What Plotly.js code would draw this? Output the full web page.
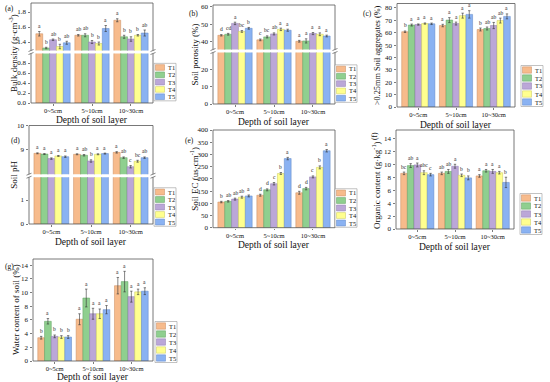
<!DOCTYPE html>
<html><head><meta charset="utf-8">
<script src="https://cdn.plot.ly/plotly-3.0.1.min.js"></script>
<style>body{margin:0;padding:0;background:#fff}#chart{width:550px;height:382px}</style>
</head><body><div id="chart"></div>
<script>
// ---------- DATA ----------
const categories = ['0~5cm', '5~10cm', '10~30cm'];
const treatments = ['T1', 'T2', 'T3', 'T4', 'T5'];

// values[treatment][depth]
const bulkDensity = [[1.51, 1.49, 1.69], [1.32, 1.49, 1.47], [1.43, 1.40, 1.44], [1.34, 1.38, 1.49], [1.39, 1.58, 1.52]];
const bulkDensityErr = [[0.03, 0.01, 0.02], [0.01, 0.02, 0.02], [0.01, 0.02, 0.03], [0.03, 0.02, 0.01], [0.02, 0.04, 0.04]];
const bulkDensityLetters = [['a', 'ab', 'a'], ['b', 'ab', 'b'], ['ab', 'b', 'b'], ['b', 'b', 'b'], ['ab', 'a', 'ab']];

const porosity = [[43.6, 41.0, 40.2], [44.2, 42.7, 40.4], [50.4, 44.4, 44.6], [45.8, 47.0, 44.2], [47.6, 46.5, 43.2]];
const porosityErr = [[0.4, 0.5, 0.5], [0.5, 0.6, 1.2], [0.7, 0.6, 0.6], [0.5, 0.7, 0.8], [0.5, 0.6, 0.5]];
const porosityLetters = [['d', 'c', 'a'], ['cd', 'bc', 'a'], ['a', 'ab', 'a'], ['bc', 'a', 'a'], ['b', 'a', 'a']];

const aggregates = [[60.8, 65.8, 62.6], [66.2, 70.2, 63.4], [66.6, 67.4, 65.8], [67.4, 73.8, 69.8], [67.2, 74.8, 73.2]];
const aggregatesErr = [[0.6, 1.0, 1.2], [0.8, 2.0, 1.2], [0.5, 1.2, 2.5], [0.5, 2.0, 2.0], [0.6, 3.0, 2.0]];
const aggregatesLetters = [['b', 'a', 'b'], ['a', 'a', 'ab'], ['a', 'a', 'ab'], ['a', 'a', 'ab'], ['a', 'a', 'a']];

const soilPH = [[8.86, 8.82, 8.90], [8.83, 8.78, 8.68], [8.64, 8.54, 8.30], [8.75, 8.82, 8.53], [8.72, 8.85, 8.68]];
const soilPHErr = [[0.02, 0.02, 0.03], [0.02, 0.03, 0.03], [0.03, 0.05, 0.05], [0.02, 0.02, 0.04], [0.03, 0.02, 0.03]];
const soilPHLetters = [['a', 'a', 'a'], ['a', 'ab', 'ab'], ['a', 'b', 'c'], ['a', 'a', 'bc'], ['a', 'a', 'ab']];

const soilEC = [[105, 133, 143], [108, 155, 160], [117, 180, 208], [125, 222, 247], [130, 283, 315]];
const soilECErr = [[3, 4, 6], [3, 4, 5], [4, 5, 4], [4, 4, 6], [4, 5, 5]];
const soilECLetters = [['b', 'd', 'd'], ['ab', 'd', 'd'], ['ab', 'c', 'c'], ['ab', 'b', 'b'], ['a', 'a', 'a']];

const organic = [[8.6, 8.6, 8.2], [9.8, 8.9, 9.0], [9.9, 9.7, 8.9], [8.7, 8.3, 8.7], [8.4, 7.9, 7.2]];
const organicErr = [[0.2, 0.2, 0.2], [0.3, 0.3, 0.2], [0.3, 0.3, 0.3], [0.3, 0.2, 0.2], [0.2, 0.3, 0.8]];
const organicLetters = [['bc', 'ab', 'a'], ['ab', 'ab', 'a'], ['a', 'a', 'a'], ['abc', 'b', 'a'], ['c', 'b', 'b']];

const water = [[3.4, 6.1, 11.0], [5.8, 9.2, 11.6], [3.6, 6.9, 9.4], [3.5, 6.9, 10.1], [3.5, 7.5, 10.2]];
const waterErr = [[0.2, 0.8, 1.2], [0.4, 1.3, 1.5], [0.2, 0.8, 0.8], [0.2, 0.7, 0.4], [0.2, 0.6, 0.5]];
const waterLetters = [['b', 'a', 'a'], ['a', 'a', 'a'], ['b', 'a', 'a'], ['b', 'a', 'a'], ['b', 'a', 'a']];

// ---------- STYLE / LAYOUT ----------
const colors = ['#F7BB8C', '#8FCF8F', '#BBA7D8', '#FFFF8F', '#8AB2F2'];
const edges = ['#C98A5E', '#5E9E5E', '#8E7AAE', '#C8C85A', '#5E86C4'];
const FONT = 'Liberation Serif, Times New Roman, serif';
const W = 550, H = 382;
const X = p => p / W, Y = p => 1 - p / H;
const BARGAP = 0.12;

const panels = [
  {label: '(a)', lab: [9, 9, 0], title: 'Bulk density (g·cm<sup>-3</sup>)', tx: 13, tfs: 9,
   v: bulkDensity, e: bulkDensityErr, l: bulkDensityLetters,
   x0: 31, x1: 153, top: 3, bottom: 103, brk: 52,
   low: [0, 0.99], lowTicks: [0, 0.2, 0.4, 0.6, 0.8], up: [1.287, 1.92], upTicks: [1.4, 1.6, 1.8], fmt: '.1f',
   leg: [154, 67.5, 7.3]},
  {label: '(b)', lab: [193, 13, 0], title: 'Soil porosity (%)', tx: 194, tfs: 9,
   v: porosity, e: porosityErr, l: porosityLetters,
   x0: 213, x1: 335, top: 5, bottom: 104, brk: 51,
   low: [0, 29.9], lowTicks: [0, 10, 20], up: [35.5, 60.9], upTicks: [40, 50, 60], fmt: 'd',
   leg: [335, 69, 7.3]},
  {label: '(c)', lab: [367, 13, 0], title: '>0.25mm Soil aggregates (%)', tx: 377, tfs: 8.3,
   v: aggregates, e: aggregatesErr, l: aggregatesLetters,
   x0: 397, x1: 515, top: 3.5, bottom: 107,
   range: [0, 83.6], ticks: [0, 10, 20, 30, 40, 50, 60, 70, 80], fmt: 'd',
   leg: [521, 70, 8]},
  {label: '(d)', lab: [15, 141, 0], title: 'Soil pH', tx: 14, tfs: 9,
   v: soilPH, e: soilPHErr, l: soilPHLetters,
   x0: 29, x1: 153, top: 125.5, bottom: 224, brk: 175.7,
   low: [0, 1.95], lowTicks: [0, 1], up: [7.99, 10.02], upTicks: [9, 10], fmt: 'd',
   leg: [154, 192, 7.5]},
  {label: '(e)', lab: [189, 141, 0], title: 'Soil EC (us·cm<sup>-1</sup>)', tx: 194, tfs: 9,
   v: soilEC, e: soilECErr, l: soilECLetters,
   x0: 213, x1: 335, top: 130, bottom: 227.7,
   range: [0, 400], ticks: [0, 50, 100, 150, 200, 250, 300, 350, 400], fmt: 'd',
   leg: [335, 193, 7.5]},
  {label: '(f)', lab: [375, 136, -90], title: 'Organic content (g·kg<sup>-1</sup>)', tx: 376, ty: 185, tfs: 9,
   v: organic, e: organicErr, l: organicLetters,
   x0: 396, x1: 514, top: 130, bottom: 229,
   range: [0, 15.3], ticks: [0, 2, 4, 6, 8, 10, 12, 14], fmt: 'd',
   leg: [520, 198, 8]},
  {label: '(g)', lab: [9, 266, 0], title: 'Water content of soil (%)', tx: 16, tfs: 9,
   v: water, e: waterErr, l: waterLetters,
   x0: 33, x1: 153, top: 259, bottom: 361,
   range: [0, 14.9], ticks: [0, 2, 4, 6, 8, 10, 12, 14], fmt: 'd',
   leg: [155, 326, 8]}
];

const traces = [], annotations = [], shapes = [];
const layout = {
  width: W, height: H, margin: {l: 0, r: 0, t: 0, b: 0},
  paper_bgcolor: '#fff', plot_bgcolor: '#fff',
  barmode: 'group', bargap: BARGAP, bargroupgap: 0,
  showlegend: false, font: {family: FONT, color: '#111', size: 7}
};

let xi = 0, yi = 0;
const axName = (p, i) => p + (i === 1 ? '' : i);
const tickFont = {family: FONT, size: 7, color: '#111'};
const xTickFont = {family: FONT, size: 6.5, color: '#111'};
const bw = (1 - BARGAP) / treatments.length;

function yAxisDef(dom, range, tickvals, fmt, anchor) {
  return {domain: dom, range: range, tickvals: tickvals, tickformat: fmt, ticks: 'outside', ticklen: 2.5,
    tickwidth: 0.7, tickcolor: '#444', tickfont: tickFont, showline: false, showgrid: false, zeroline: false,
    anchor: anchor, fixedrange: true};
}

panels.forEach(p => {
  xi++; const xa = axName('x', xi);
  const yAxes = [];
  const pxToDom = (a, b) => [Y(b), Y(a)];
  if (p.brk) {
    yi++; const yl = axName('y', yi);
    yi++; const yu = axName('y', yi);
    layout[axName('yaxis', yi - 1)] = yAxisDef(pxToDom(p.brk + 1.5, p.bottom), p.low, p.lowTicks, p.fmt, xa);
    layout[axName('yaxis', yi)] = yAxisDef(pxToDom(p.top, p.brk - 1.5), p.up, p.upTicks, p.fmt, xa);
    yAxes.push(yl, yu);
  } else {
    yi++; const y1 = axName('y', yi);
    layout[axName('yaxis', yi)] = yAxisDef(pxToDom(p.top, p.bottom), p.range, p.ticks, p.fmt, xa);
    yAxes.push(y1);
  }
  layout[axName('xaxis', xi)] = {
    domain: [X(p.x0), X(p.x1)], range: [-0.565, 2.565], tickvals: [0, 1, 2], ticktext: categories,
    ticks: 'outside', ticklen: 1.5, tickwidth: 0.7, tickcolor: '#444', tickfont: xTickFont,
    showline: false, showgrid: false, zeroline: false, anchor: yAxes[0], fixedrange: true
  };
  yAxes.forEach(ya => {
    treatments.forEach((t, j) => {
      traces.push({
        type: 'bar', name: t, x: [0, 1, 2], y: p.v[j], xaxis: xa, yaxis: ya,
        marker: {color: colors[j], line: {color: edges[j], width: 0.5}},
        error_y: {type: 'data', array: p.e[j], visible: true, color: '#333', thickness: 0.6, width: 1.2},
        hoverinfo: 'skip', showlegend: false
      });
    });
  });
  // significance letters on the top axis
  const yTop = yAxes[yAxes.length - 1];
  treatments.forEach((t, j) => {
    p.v[j].forEach((val, i) => {
      annotations.push({xref: xa, yref: yTop, x: i + (j - 2) * bw, y: val + p.e[j][i],
        text: p.l[j][i], showarrow: false, yanchor: 'bottom', yshift: 0.5,
        font: {family: FONT, size: 5.5, color: '#222'}});
    });
  });
  // frame
  shapes.push({type: 'rect', xref: 'paper', yref: 'paper', x0: X(p.x0), x1: X(p.x1), y0: Y(p.bottom), y1: Y(p.top),
    line: {color: '#555', width: 0.8}, layer: 'above'});
  if (p.brk) {
    [p.x0, p.x1].forEach(xx => {
      shapes.push({type: 'rect', xref: 'paper', yref: 'paper', x0: X(xx - 1.2), x1: X(xx + 1.2),
        y0: Y(p.brk + 1.5), y1: Y(p.brk - 1.5), fillcolor: '#fff', line: {width: 0}, layer: 'above'});
      [p.brk - 1.5, p.brk + 1.5].forEach(yy => {
        shapes.push({type: 'line', xref: 'paper', yref: 'paper', x0: X(xx - 2.5), x1: X(xx + 2.5),
          y0: Y(yy + 1), y1: Y(yy - 1), line: {color: '#555', width: 0.7}, layer: 'above'});
      });
    });
  }
  // titles
  const ty = p.ty || (p.top + p.bottom) / 2;
  annotations.push({xref: 'paper', yref: 'paper', x: X(p.tx), y: Y(ty), text: p.title,
    textangle: -90, showarrow: false, xanchor: 'center', yanchor: 'middle',
    font: {family: FONT, size: p.tfs, color: '#111'}});
  annotations.push({xref: 'paper', yref: 'paper', x: X((p.x0 + p.x1) / 2), y: Y(Math.min(p.bottom + 17.5, 376.5)), text: 'Depth of soil layer',
    showarrow: false, xanchor: 'center', yanchor: 'middle', font: {family: FONT, size: 9.5, color: '#111'}});
  annotations.push({xref: 'paper', yref: 'paper', x: X(p.lab[0]), y: Y(p.lab[1]), text: p.label,
    textangle: p.lab[2], showarrow: false, xanchor: 'center', yanchor: 'middle', font: {family: FONT, size: 7.5, color: '#111'}});
  // legend drawn manually (compact)
  const [lx, ly, dy] = p.leg;
  shapes.push({type: 'rect', xref: 'paper', yref: 'paper', x0: X(lx), x1: X(lx + 22),
    y0: Y(ly + dy * 4 + dy / 2 + 0.5), y1: Y(ly - dy / 2 - 0.5), line: {color: '#999', width: 0.6}, fillcolor: '#fff', layer: 'above'});
  treatments.forEach((t, j) => {
    const cy = ly + j * dy;
    shapes.push({type: 'rect', xref: 'paper', yref: 'paper', x0: X(lx + 1.5), x1: X(lx + 10.5),
      y0: Y(cy + dy / 2 - 0.8), y1: Y(cy - dy / 2 + 0.8), fillcolor: colors[j], line: {color: edges[j], width: 0.5}, layer: 'above'});
    annotations.push({xref: 'paper', yref: 'paper', x: X(lx + 12), y: Y(cy), text: t, showarrow: false,
      xanchor: 'left', yanchor: 'middle', font: {family: FONT, size: 6.5, color: '#111'}});
  });
});

layout.annotations = annotations;
layout.shapes = shapes;
Plotly.newPlot('chart', traces, layout, {staticPlot: true});
</script>
</body></html>
